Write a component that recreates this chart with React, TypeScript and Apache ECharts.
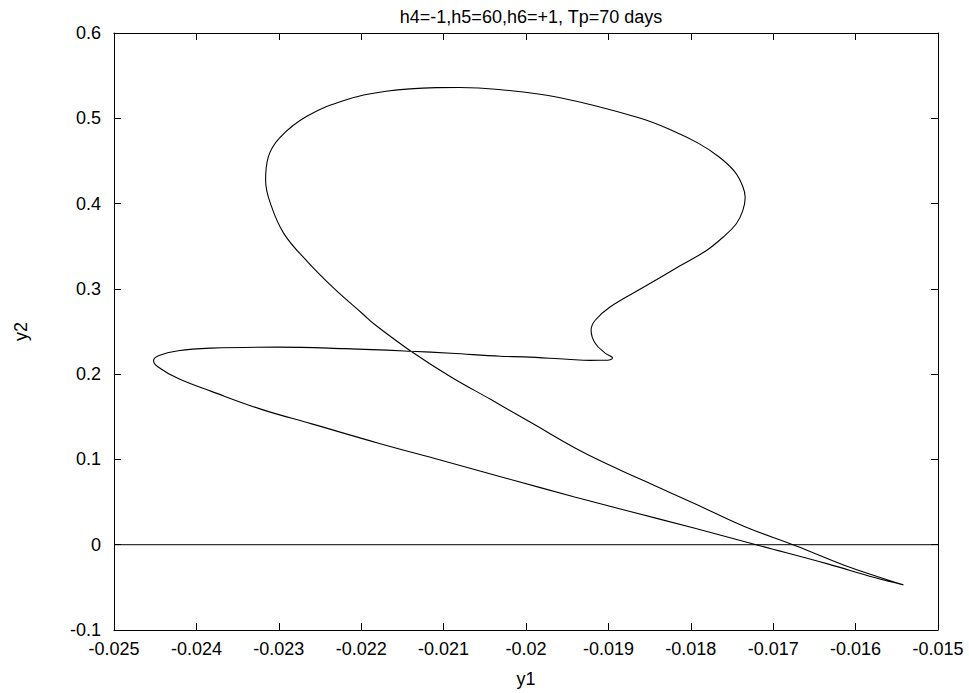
import React, { useEffect, useRef } from "react";
import * as echarts from "echarts";

const titleText = "h4=-1,h5=60,h6=+1, Tp=70 days";
const xName = "y1";
const yName = "y2";

// orbit trajectory (y1, y2)
const y1Values = [
  -0.01542, -0.01573, -0.01613, -0.01672, -0.01735, -0.01795, -0.01856, -0.01884, -0.01933, -0.01994,
  -0.02042, -0.02091, -0.0214, -0.02184, -0.02198, -0.02233, -0.02265, -0.02294, -0.0231, -0.02316,
  -0.02313, -0.02299, -0.02266, -0.02218, -0.0217, -0.02109, -0.02081, -0.02033, -0.0196, -0.01863,
  -0.01822, -0.0179, -0.01766, -0.01747, -0.01737, -0.01734, -0.01737, -0.01745, -0.01761, -0.01781,
  -0.01813, -0.01858, -0.01898, -0.01916, -0.01921, -0.01916, -0.01904, -0.01895, -0.01901, -0.01922,
  -0.0195, -0.02002, -0.02031, -0.02091, -0.0214, -0.0222, -0.02301, -0.02382, -0.02422, -0.02446,
  -0.02452, -0.02446, -0.02422, -0.02381, -0.02321, -0.0226, -0.02179, -0.02103, -0.02022, -0.01941,
  -0.01876, -0.01795, -0.01714, -0.01634, -0.01577, -0.01542,
];
const y2Values = [
  -0.0471, -0.0375, -0.0244, -0.0015, 0.0213, 0.048, 0.0746, 0.0868, 0.1095, 0.1432,
  0.1699, 0.1967, 0.2272, 0.2585, 0.2705, 0.3005, 0.3316, 0.3651, 0.3997, 0.4268,
  0.4538, 0.477, 0.5023, 0.5218, 0.5317, 0.5359, 0.5361, 0.5337, 0.5244, 0.5007,
  0.4855, 0.4703, 0.4549, 0.4377, 0.4204, 0.407, 0.3915, 0.376, 0.3605, 0.345,
  0.327, 0.3015, 0.2788, 0.2632, 0.2516, 0.2362, 0.2247, 0.219, 0.2163, 0.2162,
  0.2175, 0.2203, 0.2209, 0.2245, 0.2269, 0.2299, 0.2317, 0.2305, 0.2275, 0.2216,
  0.2158, 0.2081, 0.1948, 0.1795, 0.1587, 0.1417, 0.119, 0.099, 0.0774, 0.056,
  0.0395, 0.0192, -0.0018, -0.0225, -0.0385, -0.0471,
];

// horizontal reference line y2 = 0
const zeroLineX = [-0.025, -0.015];
const zeroLineY = [0, 0];

const xMin = -0.025;
const xMax = -0.015;
const xStep = 0.001;
const yMin = -0.1;
const yMax = 0.6;
const yStep = 0.1;

const FONT = "'Liberation Sans', Arial, Helvetica, sans-serif";

export default function App() {
  const ref = useRef<HTMLDivElement>(null);
  useEffect(() => {
    if (!ref.current) return;
    const chart = echarts.init(ref.current, undefined, { renderer: "svg" });
    const orbit = y1Values.map((x, i) => [x, y2Values[i]]);
    const zero = zeroLineX.map((x, i) => [x, zeroLineY[i]]);
    const axisLine = { show: true, onZero: false, lineStyle: { color: "#000", width: 1 } };
    const tick = { show: true, inside: true, length: 7, lineStyle: { color: "#000", width: 1 } };
    const fmtX = (v: number) => String(Number(v.toFixed(3)));
    const fmtY = (v: number) => String(Number(v.toFixed(1)));
    chart.setOption({
      animation: false,
      backgroundColor: "#fff",
      title: {
        text: titleText,
        left: 526,
        textAlign: "center",
        top: 3,
        textStyle: { fontFamily: FONT, fontSize: 18, fontWeight: "normal", color: "#000" },
      },
      grid: { left: 114, top: 33, width: 824, height: 604, containLabel: false },
      xAxis: [
        {
          type: "value",
          min: xMin,
          max: xMax,
          interval: xStep,
          position: "bottom",
          name: xName,
          nameLocation: "middle",
          nameGap: 40,
          nameTextStyle: { fontFamily: FONT, fontSize: 18, color: "#000" },
          axisLine,
          axisTick: tick,
          splitLine: { show: false },
          axisLabel: { formatter: fmtX, fontFamily: FONT, fontSize: 18, color: "#000", margin: 10 },
        },
        {
          type: "value",
          min: xMin,
          max: xMax,
          interval: xStep,
          position: "top",
          axisLine,
          axisTick: tick,
          splitLine: { show: false },
          axisLabel: { show: false },
        },
      ],
      yAxis: [
        {
          type: "value",
          min: yMin,
          max: yMax,
          interval: yStep,
          position: "left",
          name: yName,
          nameLocation: "middle",
          nameGap: 84,
          nameRotate: 90,
          nameTextStyle: { fontFamily: FONT, fontSize: 18, color: "#000" },
          axisLine,
          axisTick: tick,
          splitLine: { show: false },
          axisLabel: { formatter: fmtY, fontFamily: FONT, fontSize: 18, color: "#000", margin: 13 },
        },
        {
          type: "value",
          min: yMin,
          max: yMax,
          interval: yStep,
          position: "right",
          axisLine,
          axisTick: tick,
          splitLine: { show: false },
          axisLabel: { show: false },
        },
      ],
      series: [
        {
          type: "line",
          data: zero,
          showSymbol: false,
          lineStyle: { color: "#000", width: 1 },
          silent: true,
        },
        {
          type: "line",
          data: orbit,
          smooth: 0.4,
          showSymbol: false,
          lineStyle: { color: "#000", width: 1.1 },
          silent: true,
        },
      ],
    });
    return () => chart.dispose();
  }, []);
  return (
    <div
      ref={ref}
      style={{ position: "fixed", left: 0, top: 0, width: 969, height: 693, background: "#fff" }}
    />
  );
}
